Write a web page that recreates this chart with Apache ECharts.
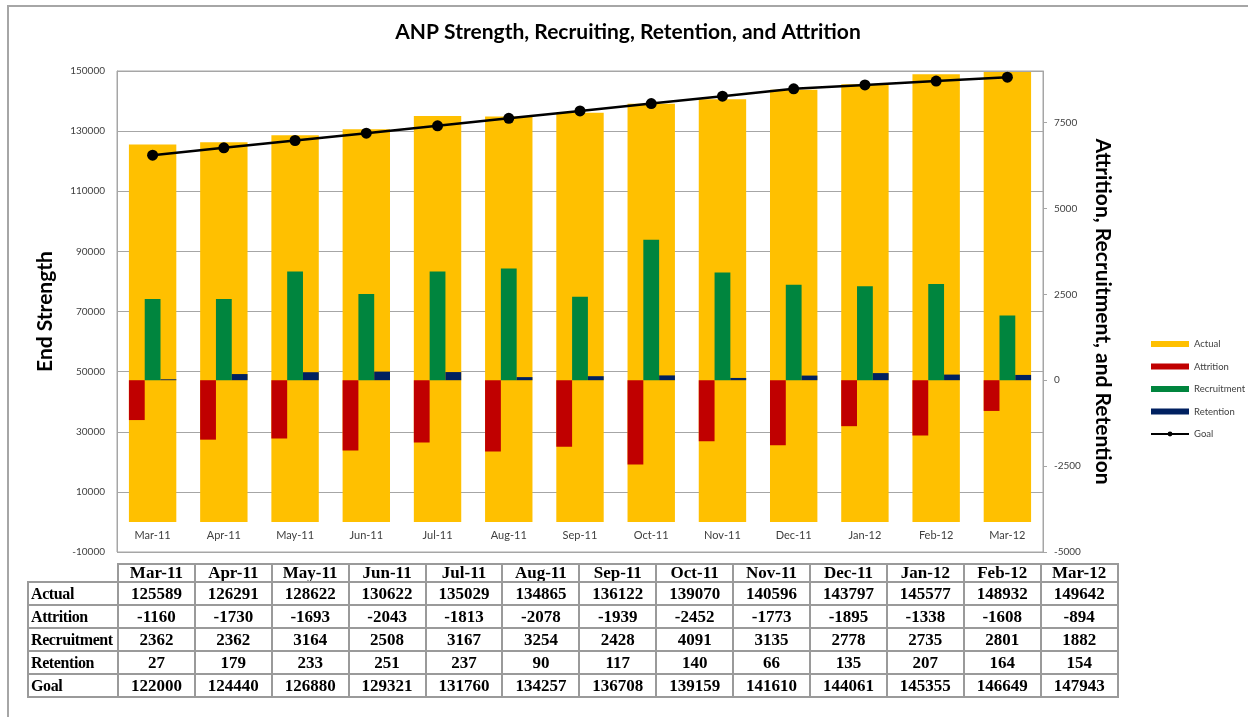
<!DOCTYPE html>
<html>
<head>
<meta charset="utf-8">
<script src="https://cdn.jsdelivr.net/npm/echarts@6/dist/echarts.min.js"></script>
<style>
  html, body { margin: 0; padding: 0; background: #fff; }
  #chart { position: absolute; left: 0; top: 0; width: 1248px; height: 717px; }
  #frame { position: absolute; left: 7px; top: 5px; width: 1300px; height: 800px; border: 2px solid #a6a6a6; pointer-events: none; }
  #tbl {
    position: absolute; left: 27px; top: 563px;
    border-collapse: collapse; table-layout: fixed;
    font-family: "Liberation Serif", "Times New Roman", serif;
    font-weight: bold; font-size: 17px; color: #000;
  }
  #tbl td { border: 2px solid #9a9a9a; text-align: center; padding: 0; height: 21px; line-height: 20px; white-space: nowrap; overflow: hidden; }
  #tbl tr.head td { height: 16px; line-height: 16px; }
  #tbl td.lbl { text-align: left; padding-left: 2px; font-size: 16px; letter-spacing: -0.4px; }
  #tbl td.blank { border: none; }
</style>
</head>
<body>
<div id="chart"></div>
<div id="frame"></div>
<table id="tbl"></table>
<script>
// chart data
const months = ['Mar-11', 'Apr-11', 'May-11', 'Jun-11', 'Jul-11', 'Aug-11', 'Sep-11',
                'Oct-11', 'Nov-11', 'Dec-11', 'Jan-12', 'Feb-12', 'Mar-12'];
const actual = [125589, 126291, 128622, 130622, 135029, 134865, 136122, 139070, 140596, 143797, 145577, 148932, 149642];
const attrition = [-1160, -1730, -1693, -2043, -1813, -2078, -1939, -2452, -1773, -1895, -1338, -1608, -894];
const recruitment = [2362, 2362, 3164, 2508, 3167, 3254, 2428, 4091, 3135, 2778, 2735, 2801, 1882];
const retention = [27, 179, 233, 251, 237, 90, 117, 140, 66, 135, 207, 164, 154];
const goal = [122000, 124440, 126880, 129321, 131760, 134257, 136708, 139159, 141610, 144061, 145355, 146649, 147943];

// left axis runs -10000..150000 with labels every 20000 starting at -10000
const leftMin = -10000, leftMax = 150000, leftStep = 20000;
const rightMin = -5000, rightMax = 9000, rightStep = 2500;

const font = 'Lato, "Open Sans", sans-serif';
const gridColor = '#a6a6a6';

const chart = echarts.init(document.getElementById('chart'));
chart.setOption({
  animation: false,
  backgroundColor: '#fff',
  title: {
    text: 'ANP Strength, Recruiting, Retention, and Attrition',
    left: 628, top: 22, padding: 0, textAlign: 'center',
    textStyle: { fontFamily: font, fontSize: 21, fontWeight: 'bold', color: '#000' }
  },
  grid: { left: 117, top: 71, width: 926, height: 481, show: true, borderColor: gridColor, borderWidth: 1, backgroundColor: '#fff' },
  legend: {
    orient: 'vertical', left: 1145, top: 333, itemWidth: 38, itemHeight: 6, itemGap: 10.5,
    textStyle: { fontFamily: font, fontSize: 9.5, color: '#404040', lineHeight: 12 },
    data: [
      { name: 'Actual', icon: 'rect' },
      { name: 'Attrition', icon: 'rect' },
      { name: 'Recruitment', icon: 'rect' },
      { name: 'Retention', icon: 'rect' },
      { name: 'Goal' }
    ]
  },
  xAxis: [
    {
      // category labels sit just under the zero line (the 0 gridline of the left axis)
      type: 'category', data: months,
      axisLine: { show: false },
      axisTick: { show: false },
      axisLabel: { fontFamily: font, fontSize: 11, color: '#404040', margin: -22 }
    },
    { type: 'category', data: months, show: false }
  ],
  yAxis: [
    // data axis for Actual and Goal (drawn by the label axis below)
    { type: 'value', min: leftMin, max: leftMax, show: false },
    {
      type: 'value', position: 'right', min: rightMin, max: rightMax, interval: rightStep,
      axisLine: { show: true, lineStyle: { color: gridColor } },
      axisTick: { show: true, length: 4, lineStyle: { color: gridColor } },
      splitLine: { show: false },
      axisLabel: { showMaxLabel: false, formatter: v => String(v), fontFamily: font, fontSize: 10, color: '#404040', margin: 11 },
      name: 'Attrition, Recruitment, and Retention', nameLocation: 'middle', nameRotate: -90, nameGap: 40,
      nameTextStyle: { fontFamily: font, fontSize: 21, fontWeight: 'bold', color: '#000' }
    },
    {
      type: 'value', position: 'left', min: 0, max: leftMax - leftMin, interval: leftStep,
      axisLine: { show: true, lineStyle: { color: gridColor } },
      axisTick: { show: false },
      splitLine: { show: true, lineStyle: { color: gridColor, width: 1 } },
      axisLabel: { formatter: v => String(v + leftMin), fontFamily: font, fontSize: 10, color: '#404040', margin: 12 },
      name: 'End Strength', nameLocation: 'middle', nameRotate: 90, nameGap: 61,
      nameTextStyle: { fontFamily: font, fontSize: 21, fontWeight: 'bold', color: '#000' }
    }
  ],
  series: [
    { name: 'Actual', type: 'bar', xAxisIndex: 0, yAxisIndex: 0, data: actual, barWidth: 47.4, itemStyle: { color: '#FFC000' } },
    { name: 'Attrition', type: 'bar', xAxisIndex: 1, yAxisIndex: 1, data: attrition, barWidth: 15.8, barGap: '0%', itemStyle: { color: '#C00000' } },
    { name: 'Recruitment', type: 'bar', xAxisIndex: 1, yAxisIndex: 1, data: recruitment, barWidth: 15.8, barGap: '0%', itemStyle: { color: '#00853E' } },
    { name: 'Retention', type: 'bar', xAxisIndex: 1, yAxisIndex: 1, data: retention, barWidth: 15.8, barGap: '0%', itemStyle: { color: '#002060' } },
    {
      name: 'Goal', type: 'line', xAxisIndex: 0, yAxisIndex: 0, data: goal, z: 5,
      symbol: 'circle', symbolSize: 11, color: '#000',
      lineStyle: { color: '#000', width: 2.5 }, itemStyle: { color: '#000' }
    }
  ]
});

// data table under the chart
const rows = [
  ['Actual', actual], ['Attrition', attrition], ['Recruitment', recruitment],
  ['Retention', retention], ['Goal', goal]
];
const tbl = document.getElementById('tbl');
let html = '<colgroup><col style="width:90px">' + months.map(() => '<col style="width:76.9px">').join('') + '</colgroup>';
html += '<tr class="head"><td class="blank"></td>' + months.map(m => '<td>' + m + '</td>').join('') + '</tr>';
rows.forEach(([name, vals]) => {
  html += '<tr><td class="lbl">' + name + '</td>' + vals.map(v => '<td>' + v + '</td>').join('') + '</tr>';
});
tbl.innerHTML = html;
</script>
</body>
</html>
